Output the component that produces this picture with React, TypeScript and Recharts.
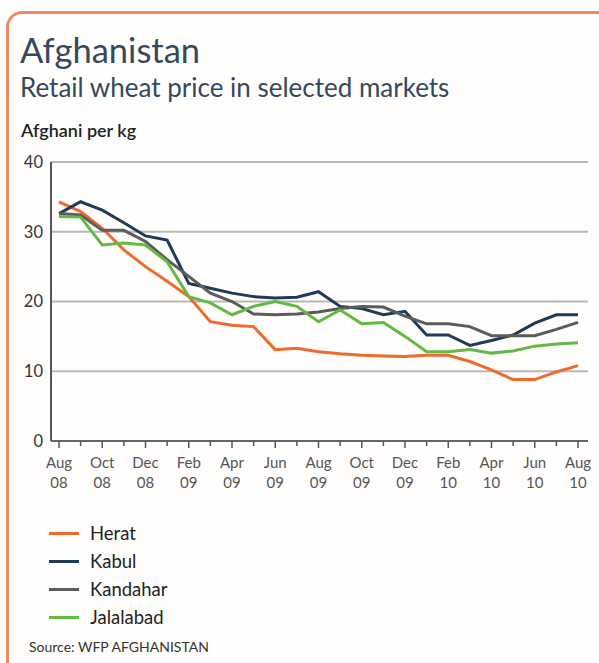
import React from 'react';
import { LineChart, Line, XAxis, YAxis, CartesianGrid } from 'recharts';

const months = [
  'Aug 08', 'Sep 08', 'Oct 08', 'Nov 08', 'Dec 08', 'Jan 09', 'Feb 09', 'Mar 09', 'Apr 09',
  'May 09', 'Jun 09', 'Jul 09', 'Aug 09', 'Sep 09', 'Oct 09', 'Nov 09', 'Dec 09', 'Jan 10',
  'Feb 10', 'Mar 10', 'Apr 10', 'May 10', 'Jun 10', 'Jul 10', 'Aug 10',
];

const herat = [34.3, 32.9, 30.5, 27.4, 25.0, 22.9, 20.7, 17.1, 16.6, 16.4, 13.1, 13.3, 12.8, 12.5, 12.3, 12.2, 12.1, 12.3, 12.3, 11.4, 10.2, 8.8, 8.8, 9.9, 10.8];
const kabul = [32.6, 34.3, 33.1, 31.3, 29.4, 28.8, 22.6, 21.9, 21.2, 20.7, 20.5, 20.6, 21.4, 19.3, 19.0, 18.1, 18.6, 15.2, 15.2, 13.7, 14.4, 15.2, 16.9, 18.1, 18.1];
const kandahar = [32.6, 32.4, 30.2, 30.2, 28.6, 26.0, 23.6, 21.2, 20.0, 18.2, 18.1, 18.2, 18.5, 19.0, 19.3, 19.2, 17.9, 16.8, 16.8, 16.4, 15.1, 15.1, 15.1, 16.0, 17.0];
const jalalabad = [32.2, 32.1, 28.1, 28.4, 28.1, 25.7, 20.7, 19.8, 18.1, 19.3, 20.0, 19.3, 17.1, 18.8, 16.8, 17.0, 15.0, 12.8, 12.8, 13.1, 12.6, 12.9, 13.6, 13.9, 14.1];

const yTicks = [0, 10, 20, 30, 40];

const series = [
  { key: 'Herat', color: '#ee6b2d', values: herat },
  { key: 'Kabul', color: '#1f3b5a', values: kabul },
  { key: 'Kandahar', color: '#5c5c5c', values: kandahar },
  { key: 'Jalalabad', color: '#62b943', values: jalalabad },
];

const data = months.map((m, i) => {
  const row: { [k: string]: string | number } = { month: m };
  series.forEach(s => { row[s.key] = s.values[i]; });
  return row;
});

const FONT = 'Lato, "Open Sans", sans-serif';

function MonthTick(props: any) {
  const { x, y, payload, index } = props;
  const major = index % 2 === 0;
  const [mon, yr] = String(payload.value).split(' ');
  return (
    <g>
      <line x1={x} x2={x} y1={y} y2={y + (major ? 7 : 5)} stroke="#555" strokeWidth={1.5} />
      {major && (
        <text x={x} y={y + 27} textAnchor="middle" fontSize={15} fill="#555" fontFamily={FONT}>{mon}</text>
      )}
      {major && (
        <text x={x} y={y + 47} textAnchor="middle" fontSize={15} fill="#555" fontFamily={FONT}>{yr}</text>
      )}
    </g>
  );
}

export default function App() {
  return (
    <div style={{ position: 'absolute', left: 0, top: 0, width: 599, height: 663, overflow: 'hidden', background: '#fff', fontFamily: FONT }}>
      <div style={{
        position: 'absolute', left: 6, top: 11, width: 640, height: 700,
        border: '3px solid #f08b5e', borderRadius: 16, background: '#fffefc',
      }} />
      <div style={{ position: 'absolute', left: 20, top: 33, fontSize: 34.5, lineHeight: 1, color: '#34495c' }}>
        Afghanistan
      </div>
      <div style={{ position: 'absolute', left: 20, top: 74, fontSize: 26, lineHeight: 1, color: '#34495c' }}>
        Retail wheat price in selected markets
      </div>
      <div style={{ position: 'absolute', left: 21, top: 121, fontSize: 18, lineHeight: 1, color: '#222', fontWeight: 600 }}>
        Afghani per kg
      </div>
      <div style={{ position: 'absolute', left: 0, top: 0 }}>
        <LineChart width={599} height={500} data={data} margin={{ top: 162, right: 11, left: 0, bottom: 0 }}>
          <CartesianGrid vertical={false} stroke="#b8b8b8" strokeWidth={2} />
          <XAxis
            dataKey="month"
            interval={0}
            height={59}
            padding={{ left: 8, right: 10 }}
            tickSize={0}
            tickMargin={0}
            tickLine={false}
            axisLine={{ stroke: '#666', strokeWidth: 2 }}
            tick={<MonthTick />}
          />
          <YAxis
            width={51}
            domain={[0, 40]}
            ticks={yTicks}
            tickSize={0}
            tickMargin={8}
            tickLine={false}
            axisLine={{ stroke: '#555', strokeWidth: 2 }}
            tick={{ fill: '#333', fontSize: 16.5, fontFamily: FONT }}
          />
          {series.map(s => (
            <Line
              key={s.key}
              dataKey={s.key}
              stroke={s.color}
              strokeWidth={3}
              dot={false}
              type="linear"
              isAnimationActive={false}
            />
          ))}
        </LineChart>
      </div>
      <div style={{ position: 'absolute', left: 49, top: 519 }}>
        {series.map(s => (
          <div key={s.key} style={{ display: 'flex', alignItems: 'center', height: 28 }}>
            <div style={{ width: 30, height: 3, background: s.color, marginRight: 11 }} />
            <span style={{ fontSize: 18.5, color: '#222' }}>{s.key}</span>
          </div>
        ))}
      </div>
      <div style={{ position: 'absolute', left: 29, top: 640, fontSize: 14, lineHeight: 1, color: '#333' }}>
        Source: WFP AFGHANISTAN
      </div>
    </div>
  );
}
